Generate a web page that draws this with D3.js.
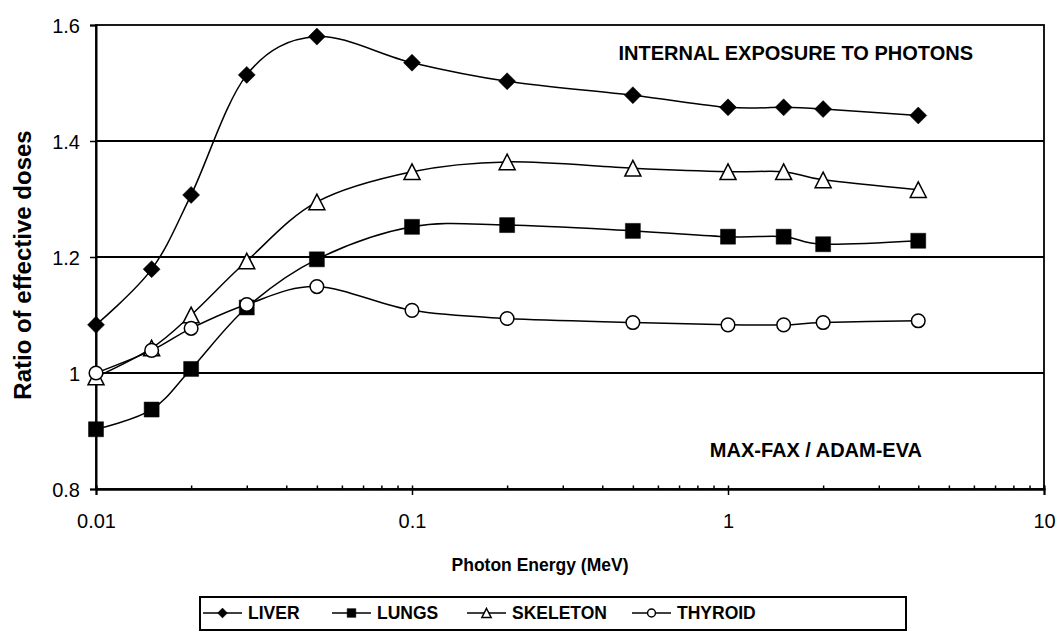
<!DOCTYPE html>
<html>
<head>
<meta charset="utf-8">
<script src="https://cdn.jsdelivr.net/npm/d3@7"></script>
<style>
  body { margin: 0; background: #fff; }
  text { font-family: "Liberation Sans", Arial, Helvetica, sans-serif; fill: #000; }
</style>
</head>
<body>
<script>
// ---- data ----
const energies = [0.01, 0.015, 0.02, 0.03, 0.05, 0.1, 0.2, 0.5, 1, 1.5, 2, 4];
const liver    = [1.083, 1.179, 1.307, 1.514, 1.580, 1.535, 1.503, 1.479, 1.458, 1.458, 1.455, 1.444];
const lungs    = [0.903, 0.937, 1.007, 1.113, 1.196, 1.252, 1.255, 1.245, 1.235, 1.235, 1.222, 1.228];
const skeleton = [0.993, 1.043, 1.100, 1.193, 1.295, 1.347, 1.364, 1.353, 1.347, 1.347, 1.333, 1.316];
const thyroid  = [1.000, 1.039, 1.077, 1.118, 1.149, 1.108, 1.094, 1.087, 1.083, 1.083, 1.087, 1.090];
const seriesNames = ["LIVER", "LUNGS", "SKELETON", "THYROID"];
const xTicks = [0.01, 0.1, 1, 10];
const xTickLabels = ["0.01", "0.1", "1", "10"];
const yTicks = [0.8, 1.0, 1.2, 1.4, 1.6];
const yTickLabels = ["0.8", "1", "1.2", "1.4", "1.6"];
const gridValues = [1.0, 1.2, 1.4];

const seriesValues = [liver, lungs, skeleton, thyroid];
const markerTypes = ["diamond", "square", "triangle", "circle"];

// ---- layout ----
const W = 1056, H = 632;
const pLeft = 96, pRight = 1044, pTop = 25, pBottom = 489;

const svg = d3.select("body").append("svg")
  .attr("width", W).attr("height", H)
  .style("background", "#fff");

const x = d3.scaleLog().domain([0.01, 10]).range([pLeft, pRight]);
const y = d3.scaleLinear().domain([0.8, 1.6]).range([pBottom, pTop]);

function markerPath(type, s) {
  if (type === "diamond") { const h = 8.5 * s; return `M0,${-h}L${h},0L0,${h}L${-h},0Z`; }
  if (type === "square") { const h = 7.5 * s; return `M${-h},${-h}H${h}V${h}H${-h}Z`; }
  if (type === "triangle") { const w = 8 * s, h = 7.8 * s; return `M0,${-h}L${w},${h}L${-w},${h}Z`; }
  return null;
}
function drawMarker(g, type, s) {
  if (type === "circle") {
    g.append("circle").attr("r", 6.8 * s).attr("fill", "#fff").attr("stroke", "#000").attr("stroke-width", 1.5);
  } else {
    const filled = type === "diamond" || type === "square";
    g.append("path").attr("d", markerPath(type, s))
      .attr("fill", filled ? "#000" : "#fff")
      .attr("stroke", "#000").attr("stroke-width", filled ? 0.5 : 1.5)
      .attr("stroke-linejoin", "miter");
  }
}

// gridlines
svg.append("g").selectAll("line").data(gridValues).join("line")
  .attr("x1", pLeft).attr("x2", pRight)
  .attr("y1", d => y(d)).attr("y2", d => y(d))
  .attr("stroke", "#000").attr("stroke-width", 1.8);

// plot border
svg.append("rect").attr("x", pLeft).attr("y", pTop)
  .attr("width", pRight - pLeft).attr("height", pBottom - pTop)
  .attr("fill", "none").attr("stroke", "#000").attr("stroke-width", 1.8);

// x axis: minor ticks (inside), major ticks (crossing)
const minor = [];
[0.01, 0.1, 1].forEach(d => { for (let k = 2; k <= 9; k++) minor.push(+(d * k).toPrecision(3)); });
const xMinor = svg.append("g").attr("transform", `translate(0,${pBottom})`)
  .call(d3.axisBottom(x).tickValues(minor.concat(xTicks)).tickSize(-3.5).tickFormat(""));
const xMajor = svg.append("g").attr("transform", `translate(0,${pBottom})`)
  .call(d3.axisBottom(x).tickValues(xTicks).tickSize(6).tickPadding(20)
    .tickFormat((d, i) => xTickLabels[i]));
[xMinor, xMajor].forEach(g => {
  g.select(".domain").attr("stroke", "#000").attr("stroke-width", 2);
  g.selectAll(".tick line").attr("stroke", "#000").attr("stroke-width", 1.5);
});
xMajor.selectAll(".tick text").attr("font-size", 20).attr("y", 39).attr("dy", 0)
  .attr("font-family", "'Liberation Sans', Arial, sans-serif");

// y axis
const yAxis = svg.append("g").attr("transform", `translate(${pLeft},0)`)
  .call(d3.axisLeft(y).tickValues(yTicks).tickSize(6).tickPadding(10)
    .tickFormat((d, i) => yTickLabels[i]));
yAxis.select(".domain").attr("stroke", "#000").attr("stroke-width", 2);
yAxis.selectAll(".tick line").attr("stroke", "#000").attr("stroke-width", 1.5);
yAxis.selectAll(".tick text").attr("font-size", 20).attr("dy", "0.35em")
  .attr("font-family", "'Liberation Sans', Arial, sans-serif");

// series
const line = d3.line().curve(d3.curveCatmullRom.alpha(0))
  .x((d, i) => x(energies[i])).y(d => y(d));

seriesValues.forEach((vals, si) => {
  const g = svg.append("g");
  g.append("path").attr("d", line(vals))
    .attr("fill", "none").attr("stroke", "#000").attr("stroke-width", 1.5);
  vals.forEach((v, i) => {
    const m = g.append("g").attr("transform", `translate(${x(energies[i])},${y(v)})`);
    drawMarker(m, markerTypes[si], 1);
  });
});

// annotations
svg.append("text").attr("x", 973).attr("y", 60).attr("text-anchor", "end")
  .attr("font-size", 20).attr("font-weight", "bold").text("INTERNAL EXPOSURE TO PHOTONS");
svg.append("text").attr("x", 922).attr("y", 457).attr("text-anchor", "end")
  .attr("font-size", 20).attr("font-weight", "bold").text("MAX-FAX / ADAM-EVA");

// axis titles
svg.append("text").attr("transform", "translate(31,265) rotate(-90)")
  .attr("text-anchor", "middle").attr("font-size", 24).attr("font-weight", "bold")
  .text("Ratio of effective doses");
svg.append("text").attr("x", 540).attr("y", 571).attr("text-anchor", "middle")
  .attr("font-size", 17.5).attr("font-weight", "bold").text("Photon Energy (MeV)");

// legend
const legendStarts = [203, 332, 467, 632];
const legendY = 613;
svg.append("rect").attr("x", 200).attr("y", 597).attr("width", 706).attr("height", 33)
  .attr("fill", "#fff").attr("stroke", "#000").attr("stroke-width", 2);
seriesNames.forEach((name, i) => {
  const g = svg.append("g").attr("transform", `translate(${legendStarts[i]},${legendY})`);
  g.append("line").attr("x1", 0).attr("x2", 39).attr("y1", 0).attr("y2", 0)
    .attr("stroke", "#000").attr("stroke-width", 1.5);
  const m = g.append("g").attr("transform", "translate(19.5,0)");
  drawMarker(m, markerTypes[i], 0.58);
  g.append("text").attr("x", 45).attr("y", 0).attr("dy", "0.36em")
    .attr("font-size", 17.5).attr("font-weight", "bold").text(name);
});
</script>
</body>
</html>
